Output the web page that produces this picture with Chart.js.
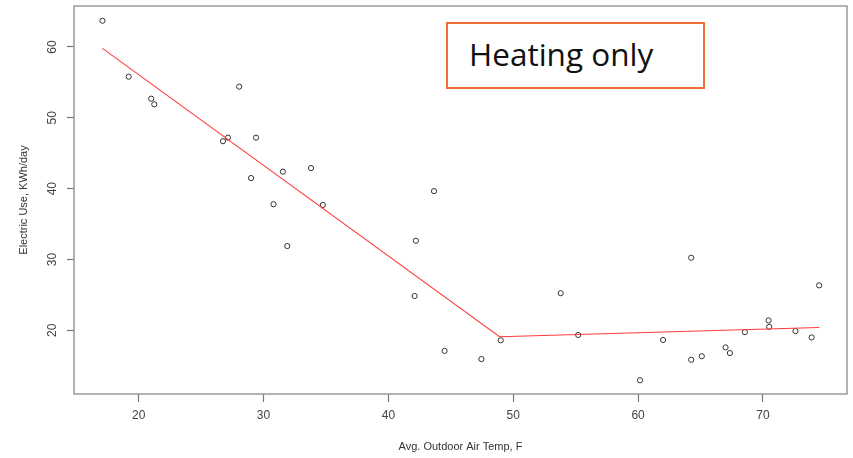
<!DOCTYPE html>
<html lang="en">
<head>
  <meta charset="UTF-8">
  <title>Heating only - Electric Use vs Outdoor Air Temp</title>
  <script src="https://cdn.jsdelivr.net/npm/chart.js@4"></script>
  <style>
    body { margin: 0; background: #fff; }
    #wrap { position: relative; width: 853px; height: 458px; }
    #note {
      position: absolute; left: 446px; top: 22px; width: 259px; height: 67px;
      box-sizing: border-box; border: 2px solid #f26b3a; background: #fff;
    }
    #note span {
      position: absolute; left: 21px; top: 12px;
      font-family: "Open Sans", Lato, sans-serif; font-size: 31.5px; line-height: 36px; color: #111;
      white-space: nowrap;
    }
  </style>
</head>
<body>
  <div id="wrap">
    <canvas id="chart"></canvas>
    <div id="note"><span>Heating only</span></div>
  </div>

  <script>
    // daily observations
    const tempF = [17.1, 19.2, 21.0, 21.25, 26.75, 27.15, 28.05, 29.4, 29.0, 31.55, 30.8, 31.9,
                   33.8, 34.75, 43.65, 42.2, 42.1, 44.5, 47.45, 49.0, 53.8, 55.2, 60.15, 62.0,
                   64.25, 64.25, 65.1, 67.0, 67.35, 68.55, 70.45, 70.5, 72.6, 73.9, 74.5];
    const kwhDay = [63.7, 55.8, 52.7, 51.9, 46.7, 47.2, 54.4, 47.2, 41.5, 42.4, 37.8, 31.9,
                    42.9, 37.7, 39.65, 32.65, 24.85, 17.1, 15.95, 18.6, 25.25, 19.35, 12.95, 18.65,
                    30.25, 15.85, 16.35, 17.6, 16.8, 19.75, 21.4, 20.5, 19.9, 19.0, 26.35];

    // piecewise fit (change point near 49 F)
    const fitTemp = [17.1, 48.9, 74.5];
    const fitKwh = [59.8, 19.1, 20.4];

    const xTicks = [20, 30, 40, 50, 60, 70];
    const yTicks = [20, 30, 40, 50, 60];

    const frame = {
      id: 'frame',
      afterDraw(chart) {
        const { ctx, chartArea: a } = chart;
        ctx.save();
        ctx.strokeStyle = '#9a9a9a';
        ctx.lineWidth = 1.5;
        ctx.strokeRect(a.left, a.top, a.right - a.left, a.bottom - a.top);
        ctx.restore();
      }
    };

    const axisFont = { family: '"Liberation Sans", Arial, sans-serif', size: 12 };
    const titleFont = { family: '"Liberation Sans", Arial, sans-serif', size: 11 };

    new Chart(document.getElementById('chart'), {
      type: 'scatter',
      data: {
        datasets: [
          {
            label: 'fit',
            type: 'line',
            data: fitTemp.map((x, i) => ({ x, y: fitKwh[i] })),
            borderColor: '#ff3a3a',
            borderWidth: 1.1,
            pointRadius: 0,
            fill: false,
            tension: 0
          },
          {
            label: 'observed',
            data: tempF.map((x, i) => ({ x, y: kwhDay[i] })),
            pointStyle: 'circle',
            pointRadius: 2.6,
            pointBorderWidth: 1,
            borderColor: '#333',
            backgroundColor: 'rgba(0,0,0,0)'
          }
        ]
      },
      options: {
        responsive: true,
        maintainAspectRatio: false,
        animation: false,
        layout: { padding: { top: 6, right: 6, left: 0, bottom: 0 } },
        plugins: { legend: { display: false }, tooltip: { enabled: false } },
        scales: {
          x: {
            type: 'linear',
            min: 14.82,
            max: 76.73,
            afterFit: s => { s.height = 64; s.paddingLeft = 0; s.paddingRight = 0; },
            afterBuildTicks: s => { s.ticks = xTicks.map(v => ({ value: v })); },
            ticks: { font: axisFont, color: '#444', padding: 6, maxRotation: 0 },
            grid: { drawOnChartArea: false, tickLength: 8, color: '#777', tickWidth: 1.2 },
            border: { display: false },
            title: {
              display: true, text: 'Avg. Outdoor Air Temp, F', font: titleFont, color: '#333',
              padding: { top: 0, bottom: 4 }
            }
          },
          y: {
            type: 'linear',
            min: 11.02,
            max: 65.78,
            afterFit: s => { s.width = 74; s.paddingTop = 0; s.paddingBottom = 0; },
            afterBuildTicks: s => { s.ticks = yTicks.map(v => ({ value: v })); },
            ticks: { font: axisFont, color: '#444', padding: 8, minRotation: 90, maxRotation: 90, crossAlign: 'center' },
            grid: { drawOnChartArea: false, tickLength: 7, color: '#777', tickWidth: 1.2 },
            border: { display: false },
            title: {
              display: true, text: 'Electric Use, KWh/day', font: titleFont, color: '#333',
              padding: { top: 17, bottom: 0 }
            }
          }
        }
      },
      plugins: [frame]
    });
  </script>
</body>
</html>
